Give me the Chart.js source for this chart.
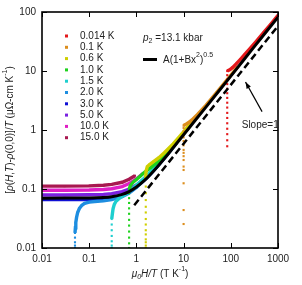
<!DOCTYPE html>
<html>
<head>
<meta charset="UTF-8">
<script src="https://cdn.jsdelivr.net/npm/chart.js"></script>
<style>
  body { margin: 0; background: #fff; }
  canvas { display: block; }
</style>
</head>
<body>
<canvas id="mr" width="302" height="285"></canvas>
<script>
// axis ticks
const xTicks = [0.01, 0.1, 1, 10, 100, 1000];
const yTicks = [0.01, 0.1, 1, 10, 100];

// legend labels
const temps = ['0.014 K', '0.1 K', '0.6 K', '1.0 K', '1.5 K', '2.0 K', '3.0 K', '5.0 K', '10.0 K', '15.0 K'];

// data: [muH/T, value]
const t0014 = [[84,0.53],[84,0.67],[84,0.85],[84,1.05],[84,1.3],[84,1.6],[84,1.95],[84,2.4],[84,2.9],[84,3.5],[84,4.2],[84,5],[84,6],[84,7.2],[84,8.5],[84,10],
  [88,10.2],[95,10.5],[110,11.5],[130,13.2],[160,15.8],[200,19.3],[260,24.5],[350,32],[500,45],[700,62],[1000,88]];
const t01 = [[10,0.0255],[10,0.044],[10,0.125],[10,0.21],[10,0.24],[10,0.31],[10,0.36],[10,0.41],[10,0.46],[10,0.55],[10,0.65],[10,0.75],[10,0.85],[10,0.95],[10,1.08],[10,1.18],
  [10.5,1.22],[11.5,1.27],[13,1.35],[16,1.55],[20,1.85],[30,2.65],[50,4.3],[80,6.8],[140,11.8]];
const t06 = [[1.58,0.01],[1.58,0.011],[1.58,0.0125],[1.58,0.014],[1.58,0.017],[1.58,0.02],[1.58,0.025],[1.58,0.031],[1.58,0.04],[1.58,0.05],[1.58,0.065],[1.58,0.085],[1.58,0.11],[1.58,0.15],[1.6,0.2],
  [1.7,0.24],[1.9,0.26],[2.3,0.29],[3,0.34],[4,0.42],[6,0.58],[9,0.84],[14,1.28],[23,2.05]];
const t10 = [[0.7,0.01],[0.7,0.012],[0.7,0.015],[0.7,0.019],[0.7,0.024],[0.7,0.03],[0.7,0.038],[0.7,0.047],[0.7,0.058],[0.7,0.07],[0.7,0.085],[0.7,0.1],
  [0.75,0.115],[0.85,0.13],[1,0.145],[1.2,0.165],[1.4,0.185],[2,0.23],[3,0.3],[5,0.46],[8,0.71],[14,1.2]];
const t15 = [[0.3,0.01],[0.3,0.011],[0.3,0.013],[0.3,0.016],[0.3,0.02],[0.3,0.025],[0.3,0.031],[0.31,0.038],[0.32,0.046],[0.34,0.055],[0.37,0.062],
  [0.42,0.068],[0.5,0.075],[0.6,0.083],[0.8,0.098],[1,0.116],[1.5,0.155],[2,0.195],[3,0.275],[5,0.44],[9.3,0.8]];
const t20 = [[0.05,0.01],[0.05,0.011],[0.05,0.0125],[0.05,0.015],[0.05,0.018],[0.051,0.022],[0.052,0.027],[0.054,0.033],[0.057,0.04],[0.062,0.047],[0.07,0.053],
  [0.08,0.057],[0.1,0.06],[0.15,0.062],[0.2,0.063],[0.3,0.066],[0.5,0.074],[0.7,0.085],[1,0.106],[2,0.18],[4,0.34],[7,0.59]];
const t30 = [[0.01,0.066],[0.02,0.066],[0.05,0.066],[0.1,0.066],[0.2,0.068],[0.3,0.07],[0.5,0.078],[0.7,0.088],[1,0.108],[1.5,0.143],[2,0.18],[3,0.26],[4.7,0.4]];
const t50 = [[0.01,0.079],[0.03,0.079],[0.1,0.08],[0.2,0.081],[0.3,0.083],[0.5,0.09],[0.7,0.1],[1,0.117],[1.5,0.15],[2,0.19],[2.8,0.255]];
const t100 = [[0.01,0.095],[0.03,0.095],[0.1,0.096],[0.2,0.098],[0.3,0.101],[0.5,0.11],[0.7,0.124],[0.9,0.14],[1.1,0.158],[1.4,0.185]];
const t150 = [[0.01,0.112],[0.03,0.112],[0.1,0.113],[0.2,0.116],[0.3,0.12],[0.5,0.13],[0.7,0.146],[0.93,0.168]];

// fit line A(1+Bx^2)^0.5 and slope=1 guide
const fitLine = [[0.01,0.07],[0.1,0.0705],[0.2,0.0719],[0.3,0.0742],[0.5,0.081],[0.7,0.0905],[1,0.108],[1.5,0.141],[2,0.178],[3,0.256],[5,0.416],[10,0.83],[30,2.47],[100,8.2],[300,24.6],[1000,82]];
const slopeLine = [[0.9,0.053],[1000,58]];

// annotation anchors (data coords)
const arrowFrom = [460, 2.05];
const arrowTo = [205, 6.5];
const slopeText = [420, 1.2];

const series = [t0014, t01, t06, t10, t15, t20, t30, t50, t100, t150];
const colors = ['#e3191c', '#dc8e1e', '#cfcf00', '#1ed21e', '#1ecfcf', '#1e8ee0', '#1010d4', '#7a22e0', '#e01ec4', '#a81850'];

const FONT = '"Liberation Sans", Arial, sans-serif';
const toXY = arr => arr.map(p => ({x: p[0], y: p[1]}));

const datasets = [
  { data: toXY(fitLine), showLine: true, borderColor: '#000', borderWidth: 3, pointRadius: 0, tension: 0.3 },
  { data: toXY(slopeLine), showLine: true, borderColor: '#000', borderWidth: 2.5, borderDash: [7, 4], pointRadius: 0 }
];
series.forEach((s, i) => {
  datasets.push({
    data: toXY(s),
    showLine: true,
    borderColor: colors[i],
    borderWidth: 3.4,
    pointStyle: 'rect',
    pointRadius: 1.5,
    pointBorderWidth: 0,
    pointBackgroundColor: colors[i],
    segment: {
      borderColor: ctx => ctx.p0.parsed.x === ctx.p1.parsed.x ? 'rgba(0,0,0,0)' : undefined
    }
  });
});

function richWidth(ctx, parts) {
  let w = 0;
  parts.forEach(p => {
    ctx.font = (p.i ? 'italic ' : '') + (p.s || 10) + 'px ' + FONT;
    w += ctx.measureText(p.t).width;
  });
  return w;
}
function drawRich(ctx, parts, x, y) {
  parts.forEach(p => {
    ctx.font = (p.i ? 'italic ' : '') + (p.s || 10) + 'px ' + FONT;
    ctx.fillText(p.t, x, y + (p.dy || 0));
    x += ctx.measureText(p.t).width;
  });
}

const decor = {
  id: 'decor',
  afterDatasetsDraw(chart) {
    const ctx = chart.ctx;
    const a = chart.chartArea;
    const xs = chart.scales.x, ys = chart.scales.y;
    ctx.save();
    // frame with inward ticks
    ctx.strokeStyle = '#000';
    ctx.lineWidth = 1.6;
    ctx.strokeRect(a.left, a.top, a.right - a.left, a.bottom - a.top);
    ctx.lineWidth = 1;
    ctx.beginPath();
    xTicks.forEach(v => {
      const px = Math.round(xs.getPixelForValue(v)) + 0.5;
      ctx.moveTo(px, a.bottom); ctx.lineTo(px, a.bottom - 5);
      ctx.moveTo(px, a.top); ctx.lineTo(px, a.top + 5);
    });
    yTicks.forEach(v => {
      const py = Math.round(ys.getPixelForValue(v)) + 0.5;
      ctx.moveTo(a.left, py); ctx.lineTo(a.left + 5, py);
      ctx.moveTo(a.right, py); ctx.lineTo(a.right - 5, py);
    });
    ctx.stroke();

    ctx.fillStyle = '#222';
    ctx.textBaseline = 'middle';
    // legend
    temps.forEach((t, i) => {
      const y = 36 + i * 11.3;
      ctx.fillStyle = colors[i];
      ctx.fillRect(65, y - 1.5, 3, 3);
      ctx.fillStyle = '#222';
      ctx.font = '10px ' + FONT;
      ctx.fillText(t, 80, y);
    });
    // pressure label
    drawRich(ctx, [{t: 'p', i: true}, {t: '2', s: 7, dy: 3}, {t: ' =13.1 kbar'}], 143, 38.5);
    // fit legend
    ctx.strokeStyle = '#000';
    ctx.lineWidth = 3;
    ctx.beginPath();
    ctx.moveTo(143, 59.5); ctx.lineTo(157, 59.5);
    ctx.stroke();
    drawRich(ctx, [{t: 'A(1+Bx'}, {t: '2', s: 7, dy: -5}, {t: ')'}, {t: '0.5', s: 7, dy: -5}], 163, 60);

    // arrow + slope text
    const fx = xs.getPixelForValue(arrowFrom[0]), fy = ys.getPixelForValue(arrowFrom[1]);
    const tx = xs.getPixelForValue(arrowTo[0]), ty = ys.getPixelForValue(arrowTo[1]);
    ctx.lineWidth = 1.2;
    ctx.beginPath();
    ctx.moveTo(fx, fy); ctx.lineTo(tx, ty);
    ctx.stroke();
    const ang = Math.atan2(ty - fy, tx - fx);
    ctx.fillStyle = '#000';
    ctx.beginPath();
    ctx.moveTo(tx, ty);
    ctx.lineTo(tx - 7 * Math.cos(ang - 0.35), ty - 7 * Math.sin(ang - 0.35));
    ctx.lineTo(tx - 7 * Math.cos(ang + 0.35), ty - 7 * Math.sin(ang + 0.35));
    ctx.closePath();
    ctx.fill();
    ctx.fillStyle = '#222';
    ctx.font = '10px ' + FONT;
    ctx.textAlign = 'center';
    ctx.fillText('Slope=1', xs.getPixelForValue(slopeText[0]), ys.getPixelForValue(slopeText[1]));
    ctx.textAlign = 'left';

    // x title
    const xt = [{t: '\u03bc', i: true}, {t: '0', i: true, s: 7, dy: 3}, {t: 'H/T', i: true}, {t: ' (T K'}, {t: '-1', s: 7, dy: -5}, {t: ')'}];
    const cx = (a.left + a.right) / 2;
    drawRich(ctx, xt, cx - richWidth(ctx, xt) / 2, 274);

    // y title
    const yt = [{t: '['}, {t: '\u03c1', i: true}, {t: '('}, {t: 'H', i: true}, {t: ','}, {t: 'T', i: true}, {t: ')-'},
      {t: '\u03c1', i: true}, {t: '(0,0)]/'}, {t: 'T', i: true}, {t: ' (\u03bc\u03a9-cm K'}, {t: '-1', s: 7, dy: -5}, {t: ')'}];
    ctx.translate(10, (a.top + a.bottom) / 2);
    ctx.rotate(-Math.PI / 2);
    drawRich(ctx, yt, -richWidth(ctx, yt) / 2, 0);
    ctx.restore();
  }
};

new Chart(document.getElementById('mr').getContext('2d'), {
  type: 'scatter',
  data: { datasets: datasets },
  options: {
    responsive: false,
    animation: false,
    devicePixelRatio: 1,
    layout: { padding: { left: 0, right: 24, top: 11, bottom: 0 } },
    plugins: { legend: { display: false }, tooltip: { enabled: false } },
    scales: {
      x: {
        type: 'logarithmic', min: 0.01, max: 1000,
        grid: { display: false, drawTicks: false }, border: { display: false },
        afterBuildTicks: s => { s.ticks = xTicks.map(v => ({ value: v })); },
        afterFit: s => { s.height = 37; },
        ticks: { color: '#222', padding: 5, maxRotation: 0, font: { size: 10, family: FONT }, callback: v => String(v) }
      },
      y: {
        type: 'logarithmic', min: 0.01, max: 100,
        grid: { display: false, drawTicks: false }, border: { display: false },
        afterBuildTicks: s => { s.ticks = yTicks.map(v => ({ value: v })); },
        afterFit: s => { s.width = 42; },
        ticks: { color: '#222', padding: 6, font: { size: 10, family: FONT }, callback: v => String(v) }
      }
    }
  },
  plugins: [decor]
});
</script>
</body>
</html>
